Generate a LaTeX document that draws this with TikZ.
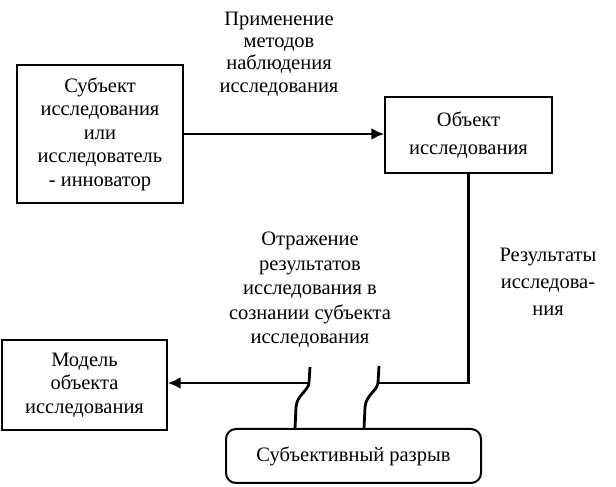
\documentclass[tikz,border=0pt]{standalone}
\usepackage{fontspec}
\setmainfont{Liberation Serif}
\usetikzlibrary{arrows.meta, positioning}

\begin{document}
\begin{tikzpicture}[x=1pt, y=1pt,
        txt/.style={align=center, font=\fontsize{20.5}{23.5}\selectfont},
        box/.style={txt, draw, line width=1.4pt, inner sep=0pt},
        flow/.style={line width=2.8pt, -{Latex[length=13pt, width=12pt]}},
        wire/.style={line width=2.8pt}]
    \useasboundingbox (0,0) rectangle (616,487);
    % boxes
    \node[box, minimum width=166, minimum height=138] (subj) at (100,353) {Субъект\\исследования\\или\\исследователь\\- инноватор};
    \node[box, minimum width=167, minimum height=76, font=\fontsize{20.5}{28.5}\selectfont] (obj) at (468.5,352) {Объект\\исследования};
    \node[box, minimum width=165, minimum height=90] (model) at (84.5,102) {Модель\\объекта\\исследования};
    \node[box, rounded corners=10pt, line width=2pt, minimum width=255, minimum height=54] (gap) at (353.5,31) {Субъективный разрыв};
    % labels
    \node[txt, font=\fontsize{20.5}{22.3}\selectfont] (methods) at (279,433) {Применение\\методов\\наблюдения\\исследования};
    \node[txt, font=\fontsize{20.5}{24.5}\selectfont] (reflect) at (310,197) {Отражение\\результатов\\исследования в\\сознании субъекта\\исследования};
    \node[txt, font=\fontsize{20.5}{27}\selectfont] (results) at (548,205) {Результаты\\исследова-\\ния};
    % break points
    \coordinate (brR) at (378,104);
    \coordinate (brRtop) at (379,121);
    \coordinate (brL) at (309,104);
    \coordinate (brLtop) at (310,120);
    \coordinate (sqR) at (364,58);
    \coordinate (sqL) at (295,58);
    % connectors
    \draw[flow] (subj.east) -- (subj.east -| obj.west);
    \draw[wire] (obj.south) |- (brR);
    \draw[wire] (brRtop) -- (brR);
    \draw[wire] (brR) .. controls (377,96) and (366,92) .. (365,80) -- (sqR);
    \draw[wire] (brLtop) -- (brL);
    \draw[wire] (brL) .. controls (308,96) and (297,92) .. (296,80) -- (sqL);
    \draw[flow] (brL) -- (brL -| model.east);
\end{tikzpicture}
\end{document}
